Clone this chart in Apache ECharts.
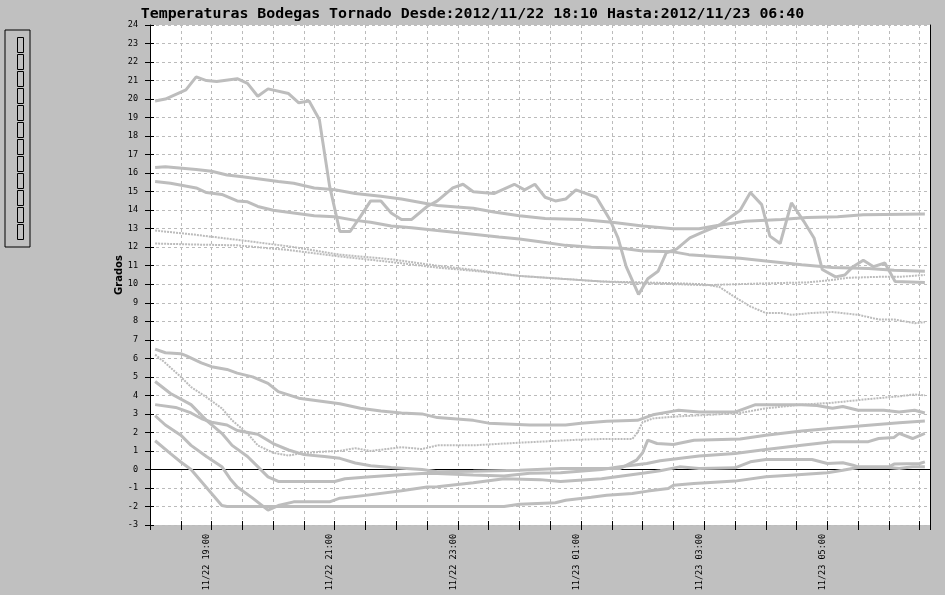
<!DOCTYPE html>
<html>
<head>
<meta charset="utf-8">
<script src="https://cdn.jsdelivr.net/npm/echarts@6/dist/echarts.min.js"></script>
<style>
html,body{margin:0;padding:0;background:#c0c0c0;}
#chart{width:945px;height:595px;}
</style>
</head>
<body>
<div id="chart"></div>
<script>
// ---- data (time "HH:MM", value in degrees) ----
const titleText = 'Temperaturas Bodegas Tornado Desde:2012/11/22 18:10 Hasta:2012/11/23 06:40';
const yName = 'Grados';
const xTickLabels = ['11/22 19:00','11/22 21:00','11/22 23:00','11/23 01:00','11/23 03:00','11/23 05:00'];
const legendNames = ['s1','s2','s3','s4','s5','s6','s7','s8','s9','s10','s11','s12'];

const serA = [['18:05',19.9],['18:15',20.0],['18:35',20.5],['18:45',21.2],['18:55',21.0],['19:05',20.95],['19:25',21.1],['19:35',20.85],['19:45',20.15],['19:55',20.55],['20:15',20.3],['20:25',19.8],['20:35',19.9],['20:45',18.9],['20:55',15.3],['21:05',12.85],['21:15',12.85],['21:25',13.65],['21:35',14.5],['21:45',14.5],['21:55',13.85],['22:05',13.5],['22:15',13.5],['22:30',14.2],['22:40',14.5],['22:55',15.2],['23:05',15.4],['23:15',15.0],['23:35',14.9],['23:55',15.4],['00:05',15.1],['00:15',15.4],['00:25',14.7],['00:35',14.5],['00:45',14.6],['00:55',15.1],['01:15',14.7],['01:28',13.5],['01:36',12.5],['01:44',10.95],['01:56',9.45],['02:05',10.3],['02:15',10.7],['02:23',11.7],['02:33',11.9],['02:46',12.5],['02:58',12.8],['03:15',13.2],['03:35',14.0],['03:45',14.95],['03:56',14.3],['04:04',12.6],['04:14',12.2],['04:25',14.4],['04:37',13.4],['04:47',12.5],['04:55',10.8],['05:08',10.4],['05:17',10.5],['05:25',10.95],['05:35',11.3],['05:45',10.95],['05:56',11.15],['06:06',10.15],['06:35',10.1]];
const serB = [['18:05',16.3],['18:15',16.35],['18:45',16.2],['19:00',16.1],['19:15',15.9],['19:30',15.8],['19:45',15.7],['20:05',15.55],['20:20',15.45],['20:40',15.2],['21:00',15.1],['21:20',14.9],['21:45',14.75],['22:05',14.6],['22:25',14.4],['22:40',14.25],['23:15',14.1],['23:35',13.9],['00:00',13.7],['00:25',13.55],['01:00',13.5],['01:30',13.35],['02:00',13.15],['02:30',13.0],['02:55',13.0],['03:10',13.15],['03:40',13.4],['04:15',13.5],['04:40',13.6],['05:10',13.65],['05:35',13.75],['06:35',13.8]];
const serC = [['18:05',15.55],['18:20',15.45],['18:45',15.2],['18:55',14.95],['19:10',14.85],['19:25',14.5],['19:35',14.45],['19:45',14.2],['20:00',14.0],['20:20',13.85],['20:40',13.7],['21:00',13.65],['21:20',13.45],['21:35',13.35],['21:55',13.15],['22:15',13.05],['22:40',12.9],['23:15',12.7],['23:40',12.55],['00:00',12.45],['00:20',12.3],['00:45',12.1],['01:10',12.0],['01:40',11.95],['02:00',11.8],['02:30',11.75],['02:45',11.6],['03:10',11.5],['03:35',11.4],['04:00',11.25],['04:35',11.05],['05:05',10.9],['05:40',10.85],['06:05',10.75],['06:35',10.7]];
const serD = [['18:05',12.9],['18:40',12.7],['19:25',12.4],['20:15',12.05],['21:05',11.6],['21:55',11.35],['22:40',11.0],['23:20',10.75],['00:00',10.45],['00:40',10.3],['01:20',10.15],['02:00',10.1],['02:35',10.05],['03:00',10.0],['03:15',9.85],['03:30',9.3],['03:45',8.8],['04:00',8.45],['04:15',8.45],['04:25',8.35],['04:45',8.45],['05:05',8.5],['05:30',8.35],['05:50',8.1],['06:05',8.1],['06:25',7.9],['06:35',7.95]];
const serE = [['18:05',12.2],['18:40',12.15],['19:25',12.1],['20:15',11.85],['21:05',11.5],['21:55',11.2],['22:40',10.9],['23:20',10.7],['00:00',10.45],['00:40',10.3],['01:20',10.15],['02:00',10.05],['02:35',10.0],['03:00',9.95],['03:30',10.0],['04:00',10.05],['04:40',10.1],['05:00',10.2],['05:20',10.35],['05:50',10.4],['06:10',10.4],['06:35',10.5]];
const serF = [['18:05',6.5],['18:15',6.3],['18:30',6.25],['18:35',6.15],['18:50',5.75],['19:00',5.55],['19:15',5.4],['19:25',5.2],['19:40',5.0],['19:55',4.65],['20:05',4.2],['20:25',3.85],['20:45',3.7],['21:05',3.55],['21:25',3.3],['21:45',3.15],['22:05',3.05],['22:25',3.0],['22:40',2.8],['23:15',2.65],['23:30',2.5],['00:10',2.4],['00:45',2.4],['01:00',2.5],['01:25',2.6],['01:55',2.65],['02:10',2.95],['02:30',3.15],['02:35',3.2],['02:55',3.1],['03:30',3.1],['03:50',3.5],['04:35',3.5],['04:50',3.45],['05:05',3.3],['05:15',3.4],['05:30',3.2],['05:55',3.2],['06:10',3.1],['06:25',3.2],['06:35',3.05]];
const serG = [['18:05',6.2],['18:15',5.75],['18:30',5.0],['18:40',4.45],['18:55',3.9],['19:10',3.3],['19:20',2.65],['19:35',1.95],['19:45',1.3],['20:00',0.9],['20:15',0.75],['20:25',0.85],['20:45',0.95],['21:05',1.0],['21:20',1.15],['21:35',1.0],['22:05',1.2],['22:25',1.1],['22:40',1.3],['23:15',1.3],['23:45',1.4],['00:20',1.5],['00:55',1.6],['01:25',1.65],['01:50',1.65],['01:55',2.0],['02:00',2.55],['02:10',2.75],['02:30',2.85],['03:05',2.95],['03:35',3.05],['04:00',3.3],['04:35',3.5],['05:05',3.6],['05:40',3.8],['06:10',3.95],['06:25',4.05],['06:35',4.0]];
const serH = [['18:05',4.75],['18:20',4.1],['18:40',3.5],['18:55',2.65],['19:10',1.95],['19:20',1.3],['19:35',0.7],['19:45',0.15],['19:55',-0.4],['20:05',-0.65],['21:00',-0.65],['21:10',-0.5],['21:35',-0.4],['22:00',-0.3],['22:25',-0.22],['22:40',-0.22],['23:15',-0.3],['23:45',-0.35],['00:10',-0.2],['00:40',-0.18],['01:20',0.0],['01:38',0.14],['02:04',0.32],['02:17',0.47],['02:55',0.72],['03:30',0.86],['04:00',1.08],['04:35',1.31],['05:05',1.49],['05:40',1.5],['05:50',1.67],['06:05',1.73],['06:10',1.95],['06:23',1.67],['06:35',1.95]];
const serI = [['18:05',3.5],['18:25',3.35],['18:40',3.05],['18:50',2.75],['19:00',2.55],['19:15',2.4],['19:25',2.1],['19:45',1.9],['20:00',1.4],['20:15',1.05],['20:30',0.8],['20:50',0.7],['21:05',0.6],['21:20',0.35],['21:35',0.2],['21:55',0.1],['22:25',0.0],['22:40',-0.13],['23:15',-0.1],['00:00',-0.05],['00:40',0.05],['01:00',0.05],['01:38',0.05],['01:54',0.5],['02:00',0.9],['02:05',1.58],['02:14',1.4],['02:30',1.35],['02:50',1.58],['03:35',1.64],['04:00',1.85],['04:35',2.07],['05:05',2.22],['05:40',2.39],['06:10',2.52],['06:35',2.61]];
const serJ = [['18:05',2.9],['18:15',2.4],['18:30',1.85],['18:40',1.3],['18:55',0.7],['19:10',0.15],['19:18',-0.5],['19:25',-0.95],['19:40',-1.55],['19:55',-2.2],['20:05',-1.95],['20:20',-1.75],['20:55',-1.75],['21:05',-1.55],['21:30',-1.4],['22:05',-1.15],['22:30',-0.95],['22:40',-0.94],['23:15',-0.72],['23:45',-0.5],['00:20',-0.55],['00:40',-0.65],['01:20',-0.5],['02:00',-0.2],['02:17',-0.07],['02:36',0.14],['02:55',0.05],['03:30',0.09],['03:45',0.41],['04:00',0.54],['04:45',0.54],['05:00',0.32],['05:15',0.36],['05:25',0.23],['05:30',0.14],['06:00',0.14],['06:05',0.29],['06:30',0.32],['06:35',0.41]];
const serK = [['18:05',1.55],['18:20',0.85],['18:30',0.4],['18:40',0.0],['18:50',-0.65],['19:00',-1.3],['19:10',-1.95],['19:15',-2.0],['23:45',-2.0],['00:00',-1.88],['00:35',-1.8],['00:45',-1.66],['01:10',-1.5],['01:25',-1.39],['01:50',-1.3],['02:05',-1.17],['02:25',-1.03],['02:30',-0.85],['02:50',-0.76],['03:30',-0.63],['04:00',-0.4],['04:35',-0.27],['05:00',-0.18],['05:15',-0.04],['05:30',0.11],['06:00',0.11],['06:10',0.05],['06:23',0.14],['06:35',0.14]];
const serL = [];

const dottedSeries = [serD, serE, serG];

// ---- helpers ----
function toMin(hm){
  const [h,m] = hm.split(':').map(Number);
  let t = (h - 18) * 60 + m;
  if (t < 0) t += 24 * 60;
  return t;
}
function pts(s){ return s.map(p => [toMin(p[0]), p[1]]); }
function labelFor(v){
  for (const l of xTickLabels){
    if (toMin(l.split(' ')[1]) === v) return l;
  }
  return '';
}

const all = [serA, serB, serC, serD, serE, serF, serG, serH, serI, serJ, serK, serL];
const series = all.map((s, i) => {
  const dotted = dottedSeries.includes(s);
  return {
    name: legendNames[i],
    type: 'line',
    xAxisIndex: 0, yAxisIndex: 0,
    data: pts(s),
    showSymbol: false,
    symbol: 'none',
    silent: true,
    lineStyle: dotted ? {color: '#bcbcbc', width: 2, type: [2, 1]} : {color: '#bdbdbd', width: 3},
    itemStyle: {color: '#bdbdbd'}
  };
});

const mono = 'DejaVu Sans Mono';
const chart = echarts.init(document.getElementById('chart'));
chart.setOption({
  animation: false,
  backgroundColor: '#c0c0c0',
  title: {
    text: titleText, left: 'center', top: 2,
    textStyle: {fontFamily: mono, fontSize: 14.9, fontWeight: 'bold', color: '#000'}
  },
  legend: {
    orient: 'vertical', left: 5, top: 30,
    itemWidth: 6, itemHeight: 15, itemGap: 1,
    icon: 'rect',
    padding: [7, 6, 7, 12],
    borderColor: '#000', borderWidth: 1,
    formatter: () => '',
    selectedMode: false,
    itemStyle: {color: 'rgba(0,0,0,0)', borderColor: '#000', borderWidth: 1},
    lineStyle: {width: 0},
    textStyle: {fontSize: 1},
    data: legendNames
  },
  grid: {left: 150, right: 15, top: 25, bottom: 70, show: true, backgroundColor: '#fff', borderWidth: 0},
  xAxis: [
    {
      type: 'value', min: 0, max: 760, interval: 30, position: 'bottom',
      axisLine: {show: false, onZero: false},
      axisTick: {show: true, length: 5, lineStyle: {color: '#000', width: 1}},
      axisLabel: {
        rotate: 90, margin: 9, fontFamily: mono, fontSize: 8.5, color: '#000',
        verticalAlign: 'bottom', showMinLabel: true, showMaxLabel: true,
        formatter: v => labelFor(v)
      },
      splitLine: {show: true, lineStyle: {color: '#bbb', type: [3, 3], width: 1}}
    },
    {
      type: 'value', min: 0, max: 760, interval: 30, position: 'bottom',
      axisLine: {show: false, onZero: false},
      axisTick: {show: true, inside: true, length: 4, lineStyle: {color: '#000', width: 1}},
      axisLabel: {show: false}, splitLine: {show: false}
    },
    {
      type: 'value', min: 0, max: 760, position: 'bottom',
      axisLine: {show: true, onZero: true, onZeroAxisIndex: 0, lineStyle: {color: '#000', width: 1}},
      axisTick: {show: false}, axisLabel: {show: false}, splitLine: {show: false}
    }
  ],
  yAxis: [
    {
      type: 'value', min: -3, max: 24, interval: 1, position: 'left',
      name: yName, nameLocation: 'middle', nameGap: 26, nameRotate: 90,
      nameMoveOverlap: false,
      nameTextStyle: {fontFamily: 'DejaVu Sans', fontSize: 10, fontWeight: 'bold', color: '#000'},
      axisLine: {show: true, onZero: false, lineStyle: {color: '#000', width: 1}},
      axisTick: {show: true, length: 5, lineStyle: {color: '#000', width: 1}},
      axisLabel: {margin: 12, fontFamily: mono, fontSize: 8.5, color: '#000'},
      splitLine: {show: true, lineStyle: {color: '#bbb', type: [3, 3], width: 1}}
    },
    {
      type: 'value', min: -3, max: 24, interval: 1, position: 'left',
      axisLine: {show: false, onZero: false},
      axisTick: {show: true, inside: true, length: 4, lineStyle: {color: '#000', width: 1}},
      axisLabel: {show: false}, splitLine: {show: false}
    },
    {
      type: 'value', min: -3, max: 24, interval: 1, position: 'right',
      axisLine: {show: true, onZero: false, lineStyle: {color: '#000', width: 1}},
      axisTick: {show: false}, axisLabel: {show: false}, splitLine: {show: false}
    }
  ],
  series: series
});
</script>
</body>
</html>
